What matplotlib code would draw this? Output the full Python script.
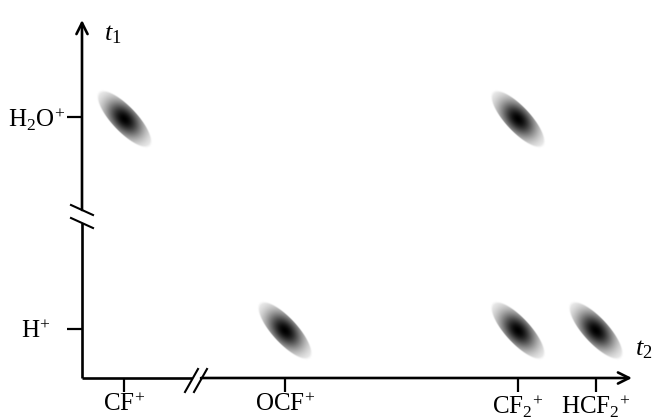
import numpy as np
import matplotlib
matplotlib.use('Agg')
import matplotlib.pyplot as plt

plt.rcParams['font.family'] = ['Liberation Serif', 'DejaVu Serif']
plt.rcParams['mathtext.fontset'] = 'custom'
plt.rcParams['mathtext.rm'] = 'Liberation Serif'
plt.rcParams['mathtext.it'] = 'Liberation Serif:italic'

# flight-time axes (arbitrary units)
t2_labels = [r'$\mathrm{CF^{\!+}}$', r'$\mathrm{OCF^{\!+}}$', r'$\mathrm{CF_2{}^{\!+}}$', r'$\mathrm{HCF_2{}^{\!+}}$']
t2_pos = [42, 203, 436, 514]
t1_labels = [r'$\mathrm{H^{\!+}}$', r'$\mathrm{H_2O^{\!+}}$']
t1_pos = [49, 261]

# coincidence islands: (t2 ion, t1 ion)
peak_t2 = [0, 2, 1, 2, 3]
peak_t1 = [1, 1, 0, 0, 0]

T2_MAX = 550
T1_MAX = 358
X_BREAK = (110, 119)
Y_BREAK = (155, 168)

fig = plt.figure(figsize=(6.53, 4.19), dpi=100)
ax = fig.add_axes([82 / 653, 41 / 419, 550 / 653, 358 / 419])
ax.set_xlim(0, T2_MAX)
ax.set_ylim(0, T1_MAX)
for s in ax.spines.values():
    s.set_visible(False)

# islands: gaussian shading cut by an ellipse
a, b, ang = 38, 13, np.deg2rad(-47)
su, sv = 16, 10
for i, j in zip(peak_t2, peak_t1):
    cx, cy = t2_pos[i], t1_pos[j] - 2
    xs = np.linspace(cx - 42, cx + 42, 169)
    ys = np.linspace(cy - 42, cy + 42, 169)
    X, Y = np.meshgrid(xs, ys)
    u = (X - cx) * np.cos(ang) + (Y - cy) * np.sin(ang)
    v = -(X - cx) * np.sin(ang) + (Y - cy) * np.cos(ang)
    r = np.sqrt((u / a) ** 2 + (v / b) ** 2)
    g = 1 - np.exp(-0.5 * ((u / su) ** 2 + (v / sv) ** 2))
    rgba = np.zeros(X.shape + (4,))
    rgba[..., 0] = rgba[..., 1] = rgba[..., 2] = np.clip(g, 0, 1)
    rgba[..., 3] = np.clip((1 - r) * 12, 0, 1)
    ax.imshow(rgba, extent=[xs[0], xs[-1], ys[0], ys[-1]], origin='lower',
              interpolation='bilinear', zorder=1, aspect='auto')

lw = 1.9
# x axis with break
ax.plot([0, X_BREAK[0]], [0, 0], color='black', lw=lw, clip_on=False, solid_capstyle='butt')
ax.annotate('', xy=(T2_MAX, 0), xytext=(X_BREAK[1], 0),
            arrowprops=dict(arrowstyle='->, head_width=0.4, head_length=0.8', lw=lw, color='black',
                            shrinkA=0, shrinkB=0), annotation_clip=False)
# y axis with break
ax.plot([0, 0], [0, Y_BREAK[0]], color='black', lw=lw, clip_on=False, solid_capstyle='butt')
ax.annotate('', xy=(0, T1_MAX), xytext=(0, Y_BREAK[1]),
            arrowprops=dict(arrowstyle='->, head_width=0.4, head_length=0.8', lw=lw, color='black',
                            shrinkA=0, shrinkB=0), annotation_clip=False)

# break marks
for dx in (0, 9):
    ax.plot([103 + dx, 116 + dx], [-14, 9], color='black', lw=1.5, clip_on=False)
for dy in (0, -13):
    ax.plot([-11, 11], [173 + dy, 163 + dy], color='black', lw=1.5, clip_on=False)

ax.set_xticks(t2_pos)
ax.set_xticklabels(t2_labels, fontsize=18)
ax.set_yticks(t1_pos)
ax.set_yticklabels(t1_labels, fontsize=18, ha='center')
ax.tick_params(axis='x', direction='out', length=10, width=1.6, pad=1)
ax.tick_params(axis='y', direction='out', length=11, width=1.6, pad=22)

ax.text(31, 343, r'$t_1$', fontsize=19, ha='center', va='center')
ax.text(562, 28, r'$t_2$', fontsize=19, ha='center', va='center', clip_on=False)

fig.savefig('out.png', dpi=100)
